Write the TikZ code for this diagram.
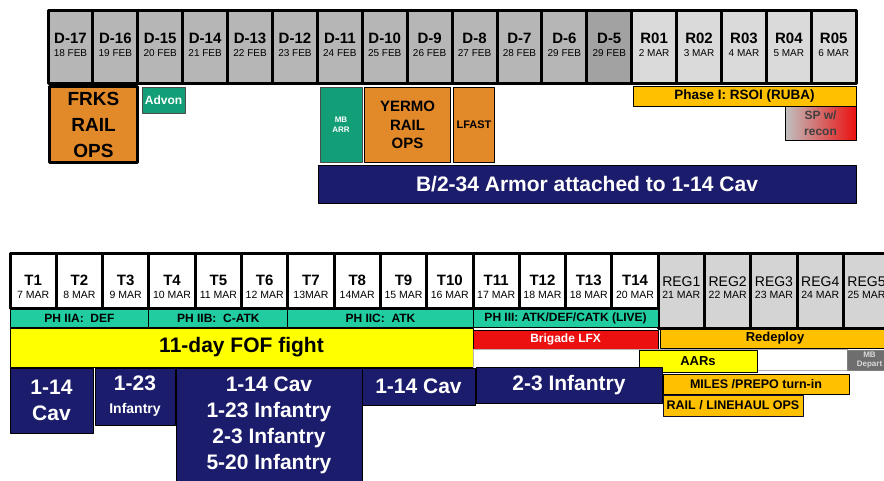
\documentclass[tikz,border=0pt]{standalone}
\usepackage{fontspec}
\setmainfont{Liberation Sans}
\usetikzlibrary{positioning}
\definecolor{daygray}{RGB}{182,182,182}
\definecolor{lastgray}{RGB}{162,162,162}
\definecolor{rgray}{RGB}{218,218,218}
\definecolor{reggray}{RGB}{212,212,212}
\definecolor{railorange}{RGB}{226,137,42}
\definecolor{advgreen}{RGB}{18,158,118}
\definecolor{phmint}{RGB}{32,204,160}
\definecolor{phasegold}{RGB}{255,192,0}
\definecolor{unitnavy}{RGB}{28,28,108}
\definecolor{lfxred}{RGB}{236,16,16}
\definecolor{fofyellow}{RGB}{255,255,0}
\definecolor{departgray}{RGB}{110,110,110}
\definecolor{spgray}{RGB}{192,192,192}
\begin{document}
\begin{tikzpicture}[x=1pt,y=-1pt,line join=round,
    daycell/.style={draw=black,line width=3pt,minimum width=44.9pt,minimum height=73pt,inner sep=0pt},
    tcell/.style={draw=black,line width=3pt,minimum width=46.3pt,minimum height=55pt,inner sep=0pt,fill=white},
    regcell/.style={tcell,minimum height=75pt,fill=reggray},
    daylab/.style={font=\bfseries\fontsize{15}{17}\selectfont,inner sep=0pt},
    reglab/.style={font=\fontsize{14}{16}\selectfont,inner sep=0pt},
    datelab/.style={font=\fontsize{10}{12}\selectfont,inner sep=0pt},
    blk/.style={draw=black,line width=1pt,align=center,inner sep=0pt,font=\bfseries},
    railbox/.style={blk,line width=2.5pt,fill=railorange},
    greenbox/.style={blk,draw=black!70,fill=advgreen,text=white},
    navybox/.style={blk,fill=unitnavy,text=white,font=\bfseries\fontsize{21}{26}\selectfont},
    phbar/.style={blk,fill=phmint,minimum height=18pt,font=\bfseries\fontsize{12}{14}\selectfont},
    goldbar/.style={blk,fill=phasegold,font=\bfseries\fontsize{12.5}{14}\selectfont}]
  \useasboundingbox (0,0) rectangle (884,480);
  \clip (0,0) rectangle (884,480);
  \fill[white] (0,0) rectangle (884,480);

  % deployment days
  \foreach \lab/\dat/\col [count=\i from 0] in {D-17/18 FEB/daygray,D-16/19 FEB/daygray,D-15/20 FEB/daygray,
      D-14/21 FEB/daygray,D-13/22 FEB/daygray,D-12/23 FEB/daygray,D-11/24 FEB/daygray,D-10/25 FEB/daygray,
      D-9/26 FEB/daygray,D-8/27 FEB/daygray,D-7/28 FEB/daygray,D-6/29 FEB/daygray,D-5/29 FEB/lastgray,
      R01/2 MAR/rgray,R02/3 MAR/rgray,R03/4 MAR/rgray,R04/5 MAR/rgray,R05/6 MAR/rgray}
  {
    \pgfmathsetmacro\cx{48+44.9*(\i+0.5)}
    \node[daycell,fill=\col] (day\i) at (\cx,46.5) {};
    \node[daylab] (daylab\i) at (\cx,38) {\lab};
    \node[datelab] (date\i) at (\cx,53) {\dat};
  }

  \node[railbox,minimum width=88pt,minimum height=76pt,font=\bfseries\fontsize{19}{26}\selectfont] (frks) at (93.5,124.5) {FRKS\\RAIL\\OPS};
  \node[greenbox,minimum width=43pt,minimum height=26pt,font=\bfseries\fontsize{12}{14}\selectfont] (advon) at (163.5,100) {Advon};
  \node[greenbox,minimum width=42pt,minimum height=75pt,font=\bfseries\fontsize{8}{10}\selectfont] (mbarr) at (341,124.5) {MB\\ARR};
  \node[railbox,line width=1.5pt,minimum width=86pt,minimum height=75pt,font=\bfseries\fontsize{15}{18.5}\selectfont] (yermo) at (407.5,125) {YERMO\\RAIL\\OPS};
  \node[railbox,line width=1.5pt,minimum width=41pt,minimum height=75pt,font=\bfseries\fontsize{11}{13}\selectfont] (lfast) at (474,125) {LFAST};
  \node[navybox,minimum width=538pt,minimum height=38pt] (armor) at (587,184) {B/2-34 Armor attached to 1-14 Cav};
  \node[goldbar,minimum width=223pt,minimum height=20pt,font=\bfseries\fontsize{13.5}{15}\selectfont] (phasei) at (744.5,96) {Phase I: RSOI (RUBA)};
  \node[blk,left color=spgray,right color=lfxred,text=black!75,minimum width=71pt,minimum height=34pt,font=\bfseries\fontsize{12}{16}\selectfont] (sprecon) at (820.5,123) {SP w/\\recon};

  % training days
  \foreach \lab/\dat [count=\i from 0] in {T1/7 MAR,T2/8 MAR,T3/9 MAR,T4/10 MAR,T5/11 MAR,T6/12 MAR,T7/13MAR,
      T8/14MAR,T9/15 MAR,T10/16 MAR,T11/17 MAR,T12/18 MAR,T13/18 MAR,T14/20 MAR}
  {
    \pgfmathsetmacro\cx{10+46.3*(\i+0.5)}
    \node[tcell] (t\i) at (\cx,280.5) {};
    \node[daylab] (tlab\i) at (\cx,280) {\lab};
    \node[datelab,font=\fontsize{10.5}{12}\selectfont] (tdate\i) at (\cx,295) {\dat};
  }
  \foreach \lab/\dat [count=\i from 14] in {REG1/21 MAR,REG2/22 MAR,REG3/23 MAR,REG4/24 MAR,REG5/25 MAR}
  {
    \pgfmathsetmacro\cx{10+46.3*(\i+0.5)}
    \node[regcell] (reg\i) at (\cx,290.5) {};
    \node[reglab] (reglab\i) at (\cx,282) {\lab};
    \node[datelab,font=\fontsize{10.5}{12}\selectfont] (regdate\i) at (\cx,295) {\dat};
  }

  \node[phbar,minimum width=138.9pt] (pha) at (79.45,318) {PH IIA:\ \ DEF};
  \node[phbar,minimum width=138.9pt] (phb) at (218.35,318) {PH IIB:\ \ C-ATK};
  \node[phbar,minimum width=185.2pt] (phc) at (380.4,318) {PH IIC:\ \ ATK};
  \node[phbar,minimum width=185.2pt] (phiii) at (565.6,318) {PH III: ATK/DEF/CATK (LIVE)};

  \node[blk,fill=fofyellow,minimum width=463pt,minimum height=39pt,font=\bfseries\fontsize{21}{24}\selectfont] (fof) at (241.5,347.5) {11-day FOF fight};
  \node[blk,fill=lfxred,text=white,minimum width=185.2pt,minimum height=19pt,font=\bfseries\fontsize{12}{14}\selectfont] (lfx) at (565.6,339.5) {Brigade LFX};
  \node[blk,draw=black!30,line width=0.6pt,fill=white,minimum width=374pt,minimum height=21pt] (gap) at (660,359.5) {};
  \node[goldbar,minimum width=230pt,minimum height=19pt,font=\bfseries\fontsize{13}{15}\selectfont] (redeploy) at (775,338.5) {Redeploy};
  \node[blk,fill=fofyellow,minimum width=118pt,minimum height=22pt,font=\bfseries\fontsize{13}{15}\selectfont] (aars) at (698,361) {AARs};
  \node[blk,draw=black!50,fill=departgray,text=white!85!black,minimum width=45pt,minimum height=20pt,font=\bfseries\fontsize{8}{9}\selectfont] (mbdep) at (869.5,360) {MB\\Depart};
  \node[goldbar,minimum width=186pt,minimum height=20pt] (miles) at (756,384) {MILES /PREPO turn-in};
  \node[goldbar,draw=unitnavy!50!black,minimum width=140pt,minimum height=21pt] (railhaul) at (733,405.5) {RAIL / LINEHAUL OPS};

  % units in the box
  \node[navybox,minimum width=83pt,minimum height=65pt] (cav1) at (51.5,400.5) {1-14\\Cav};
  \node[navybox,minimum width=80pt,minimum height=57pt] (inf1) at (135,396.5) {1-23\\[-3pt]{\fontsize{14}{16}\selectfont Infantry}};
  \node[navybox,minimum width=186pt,minimum height=114pt] (mixed) at (269,425) {1-14 Cav\\1-23 Infantry\\2-3 Infantry\\5-20 Infantry};
  \node[navybox,minimum width=113pt,minimum height=37pt] (cav2) at (418.5,386.5) {1-14 Cav};
  \node[navybox,minimum width=186pt,minimum height=36pt] (inf2) at (569,385) {2-3 Infantry};
\end{tikzpicture}
\end{document}
